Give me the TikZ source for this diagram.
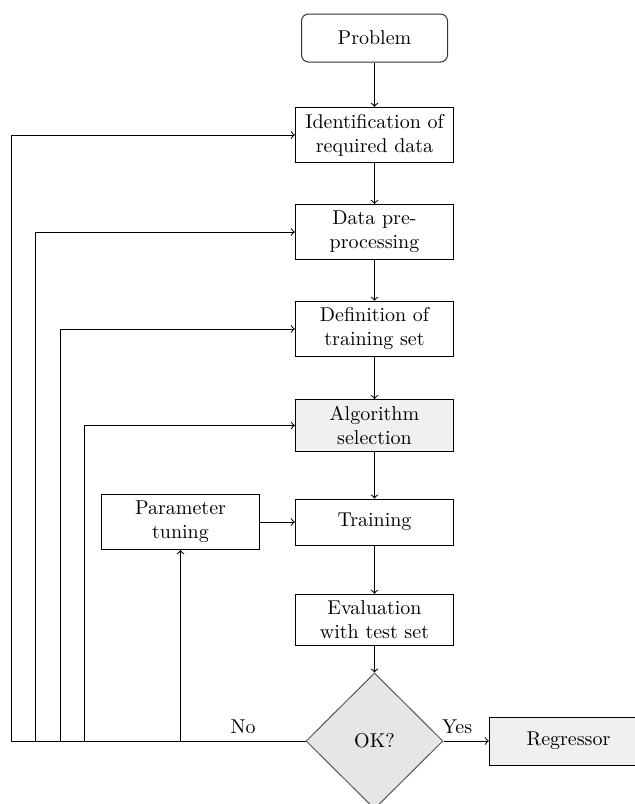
\documentclass[tikz,border=0pt]{standalone}
\usetikzlibrary{shapes.geometric,positioning}
\definecolor{boxgray}{HTML}{F0F0F0}
\definecolor{diagray}{HTML}{E6E6E6}
\tikzset{
  stepbox/.style={draw=black, rectangle, text width=72.5pt, align=center, minimum height=23pt, inner sep=3.33pt, font=\normalsize},
  startbox/.style={draw=black!80, rectangle, rounded corners=3.5pt, minimum width=73pt, minimum height=24pt, align=center},
  decision/.style={draw=black!65, diamond, fill=diagray, minimum width=68.5pt, minimum height=68pt, inner sep=0pt, aspect=1},
  conn/.style={->, >=to},
  lbl/.style={above, inner sep=3.33pt}
}
\begin{document}
\begin{tikzpicture}[x=0.5pt,y=-0.5pt, line width=0.5pt]
\useasboundingbox (0,0) rectangle (635,804);
\clip (0,0) rectangle (635,804);

\node[startbox] (prob) at (374.5,38) {Problem};
\node[stepbox] (ident) at (374.5,135) {Identification of\\required data};
\node[stepbox] (prep) at (374.5,232) {Data pre-\\processing};
\node[stepbox] (defn) at (374.5,329) {Definition of\\training set};
\node[stepbox, fill=boxgray] (algo) at (374.5,425.5) {Algorithm\\selection};
\node[stepbox] (train) at (374.5,522) {Training};
\node[stepbox] (param) at (180.5,522) {Parameter\\tuning};
\node[stepbox] (eval) at (374.5,620) {Evaluation\\with test set};
\node[decision] (ok) at (374.5,741) {OK?};
\node[stepbox, fill=boxgray, minimum height=24pt] (reg) at (568.5,741) {Regressor};

\coordinate (c1) at (11,741);
\coordinate (c2) at (35,741);
\coordinate (c3) at (60,741);
\coordinate (c4) at (84,741);
\coordinate (c5) at (180.5,741);

\draw[conn] (prob) -- (ident);
\draw[conn] (ident) -- (prep);
\draw[conn] (prep) -- (defn);
\draw[conn] (defn) -- (algo);
\draw[conn] (algo) -- (train);
\draw[conn] (train) -- (eval);
\draw[conn] (eval) -- (ok);
\draw[conn] (param) -- (train);
\draw[conn] (ok) -- node[lbl, pos=0.3]{Yes} (reg);

\draw (ok.west) -- node[lbl, pos=0.5]{No} (c5) -- (c1);
\draw[conn] (c1) |- (ident.west);
\draw[conn] (c2) |- (prep.west);
\draw[conn] (c3) |- (defn.west);
\draw[conn] (c4) |- (algo.west);
\draw[conn] (c5) -- (param.south);
\end{tikzpicture}
\end{document}
